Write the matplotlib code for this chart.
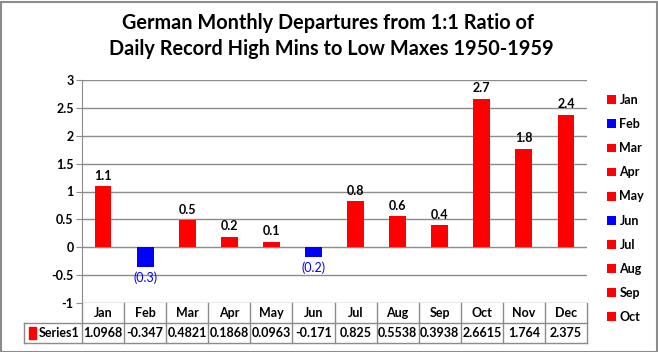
import matplotlib
matplotlib.use("Agg")
import matplotlib.pyplot as plt
from matplotlib.patches import Patch, Rectangle
from matplotlib.lines import Line2D

months = ["Jan", "Feb", "Mar", "Apr", "May", "Jun", "Jul", "Aug", "Sep", "Oct", "Nov", "Dec"]
values = [1.0968, -0.347, 0.4821, 0.1868, 0.0963, -0.171, 0.825, 0.5538, 0.3938, 2.6615, 1.764, 2.375]
table_text = ["1.0968", "-0.347", "0.4821", "0.1868", "0.0963", "-0.171", "0.825", "0.5538", "0.3938", "2.6615", "1.764", "2.375"]
legend_months = months[:10]

plt.rcParams['font.family'] = ['Lato', 'DejaVu Sans']
plt.rcParams['font.weight'] = 'bold'

colors = ['red' if v >= 0 else 'blue' for v in values]

fig = plt.figure(figsize=(6.58, 3.52), dpi=100)
W, H = 658, 352
left, right, top, bottom = 82, 587, 80, 303
ax = fig.add_axes([left / W, (H - bottom) / H, (right - left) / W, (bottom - top) / H])

x = list(range(len(months)))
ax.bar(x, values, width=0.4, color=colors, zorder=3)
ax.set_xlim(-0.5, len(months) - 0.5)
ax.set_ylim(-1, 3)
ax.set_yticks([-1, -0.5, 0, 0.5, 1, 1.5, 2, 2.5, 3])
ax.set_yticklabels(['-1', '-0.5', '0', '0.5', '1', '1.5', '2', '2.5', '3'])
ax.yaxis.grid(True, color='#8c8c8c', linewidth=1)
ax.set_axisbelow(True)
ax.set_xticks([])
for s in ['top', 'right', 'bottom']:
    ax.spines[s].set_visible(False)
ax.spines['left'].set_color('#8c8c8c')
ax.tick_params(axis='y', length=4, color='#8c8c8c', labelsize=9, pad=2)

# data labels
for i, v in enumerate(values):
    if v >= 0:
        ax.text(i, v + 0.08, f"{v:.1f}", ha='center', va='bottom', fontsize=9, fontweight='bold')
    else:
        ax.text(i, v - 0.08, f"({abs(v):.1f})", ha='center', va='top', fontsize=9,
                color='blue', fontweight='normal')

# data table
trans = ax.get_xaxis_transform()
row_h = 20 / (bottom - top)
line_kw = dict(color='#8c8c8c', linewidth=1, clip_on=False, transform=trans)
lab_left = -0.5 - 58 / ((right - left) / len(months))
n = len(months)
for i, m in enumerate(months):
    ax.text(i, -row_h / 2, m, ha='center', va='center', fontsize=9, transform=trans)
    ax.text(i, -1.5 * row_h, table_text[i], ha='center', va='center', fontsize=9, transform=trans)
# horizontal lines
ax.add_line(Line2D([lab_left, n - 0.5], [-row_h, -row_h], **line_kw))
ax.add_line(Line2D([lab_left, n - 0.5], [-2 * row_h, -2 * row_h], **line_kw))
ax.add_line(Line2D([lab_left, lab_left], [-row_h, -2 * row_h], **line_kw))
for k in range(n + 1):
    ax.add_line(Line2D([k - 0.5, k - 0.5], [0, -2 * row_h], **line_kw))
ax.add_patch(Rectangle((lab_left + 0.12, -1.5 * row_h - 0.025), 0.17, 0.05, color='red',
                       transform=trans, clip_on=False))
ax.text(lab_left + 0.35, -1.5 * row_h, "Series1", ha='left', va='center', fontsize=9, transform=trans)

# legend
handles = [Patch(facecolor=colors[i], edgecolor='none') for i in range(len(legend_months))]
fig.legend(handles, legend_months, loc='upper left', bbox_to_anchor=(602 / W, 1 - 89 / H),
           frameon=False, fontsize=9, handlelength=0.7, handleheight=0.7, handletextpad=0.3,
           labelspacing=0.97, borderaxespad=0)

fig.text(328 / W, 1 - 23 / H, "German Monthly Departures from 1:1 Ratio of", ha='center', va='center',
         fontsize=14.3, fontweight='bold')
fig.text(331 / W, 1 - 49 / H, "Daily Record High Mins to Low Maxes 1950-1959", ha='center', va='center',
         fontsize=14.3, fontweight='bold')

fig.add_artist(Rectangle((0.5 / W, 0.5 / H), 1 - 2 / W, 1 - 2 / H, transform=fig.transFigure,
                         fill=False, edgecolor='#8c8c8c', linewidth=1.5))

fig.savefig("out.png", dpi=100, facecolor='white')
